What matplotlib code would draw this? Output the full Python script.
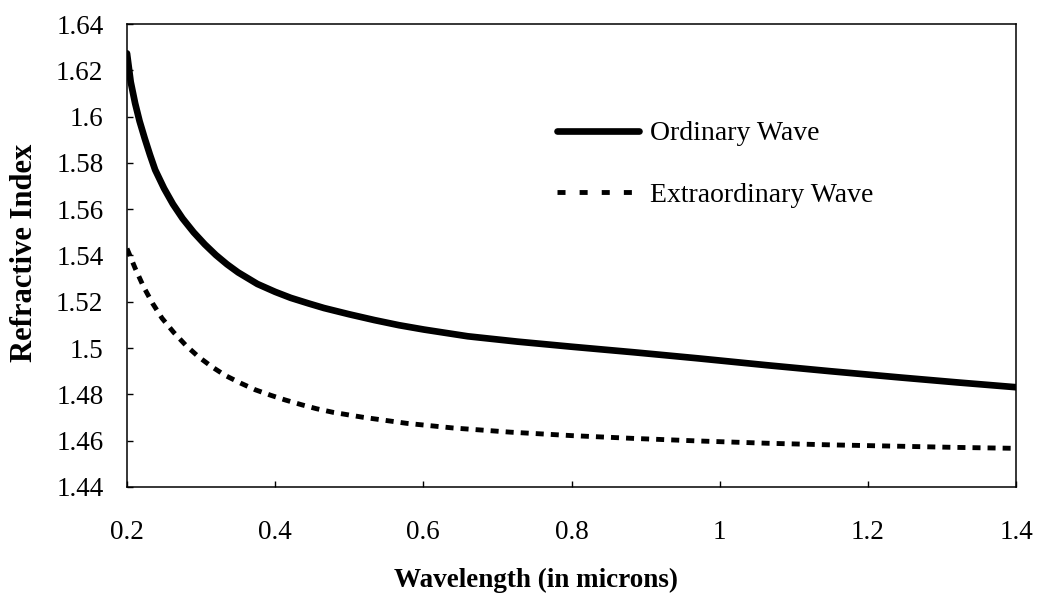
import matplotlib
matplotlib.use("Agg")
import matplotlib.pyplot as plt
from matplotlib.lines import Line2D

# Refractive index vs wavelength (microns)
wl_ordinary = [0.200, 0.205, 0.211, 0.217, 0.224, 0.231, 0.238, 0.250, 0.262, 0.275,
               0.290, 0.305, 0.320, 0.335, 0.350, 0.376, 0.400, 0.421, 0.445, 0.466,
               0.500, 0.534, 0.567, 0.601, 0.660, 0.727, 0.800, 0.884, 0.970, 1.064,
               1.150, 1.244, 1.320, 1.400]
n_ordinary = [1.6273, 1.6150, 1.6057, 1.5980, 1.5905, 1.5835, 1.5770, 1.5690, 1.5622, 1.5560,
              1.5500, 1.5448, 1.5402, 1.5362, 1.5327, 1.5277, 1.5243, 1.5217, 1.5193, 1.5173,
              1.5146, 1.5121, 1.5099, 1.5080, 1.5051, 1.5028, 1.5006, 1.4982, 1.4956, 1.4926,
              1.4900, 1.4873, 1.4852, 1.4831]

wl_extra = [0.200, 0.211, 0.2225, 0.2346, 0.2473, 0.263, 0.280, 0.2967, 0.3147,
            0.3326, 0.3538, 0.3731, 0.3942, 0.4135, 0.436, 0.456, 0.479, 0.519,
            0.5775, 0.640, 0.717, 0.800, 0.883, 0.970, 1.064, 1.150, 1.244, 1.320, 1.400]
n_extra = [1.5430, 1.5345, 1.5264, 1.5193, 1.5129, 1.5068, 1.5010, 1.4962, 1.4919,
           1.4882, 1.4848, 1.4820, 1.4796, 1.4776, 1.4755, 1.4738, 1.4722, 1.4701,
           1.4675, 1.4655, 1.4637, 1.4622, 1.4610, 1.4599, 1.4589, 1.4582, 1.4576, 1.4571, 1.4567]

x_ticks = [0.2, 0.4, 0.6, 0.8, 1.0, 1.2, 1.4]
x_ticklabels = ["0.2", "0.4", "0.6", "0.8", "1", "1.2", "1.4"]
y_ticks = [1.44, 1.46, 1.48, 1.50, 1.52, 1.54, 1.56, 1.58, 1.60, 1.62, 1.64]
y_ticklabels = ["1.44", "1.46", "1.48", "1.5", "1.52", "1.54", "1.56", "1.58", "1.6", "1.62", "1.64"]

series_labels = ["Ordinary Wave", "Extraordinary Wave"]

plt.rcParams["font.family"] = ["Liberation Serif", "DejaVu Serif"]

W, H = 1039, 597
fig = plt.figure(figsize=(W / 100, H / 100), dpi=100)
ax = fig.add_axes([127 / W, 1 - 487 / H, (1016 - 127) / W, (487 - 24) / H])

ax.plot(wl_ordinary, n_ordinary, color="black", lw=4.8, solid_capstyle="round",
        solid_joinstyle="round")
ax.plot(wl_extra, n_extra, color="black", lw=3.5, dashes=(1.65, 1.45),
        dash_capstyle="butt")

ax.set_xlim(0.2, 1.4)
ax.set_ylim(1.44, 1.64)
ax.set_xticks(x_ticks)
ax.set_xticklabels(x_ticklabels)
ax.set_yticks(y_ticks)
ax.set_yticklabels(y_ticklabels)

ax.tick_params(axis="both", direction="in", length=4, width=1, labelsize=19.5)
ax.tick_params(axis="x", pad=24)
ax.tick_params(axis="y", pad=17)
for s in ax.spines.values():
    s.set_linewidth(1.1)
    s.set_color("black")

fig.text(536 / W, 1 - 580 / H, "Wavelength (in microns)", ha="center", va="center",
         fontsize=19.5, fontweight="bold")
fig.text(25 / W, 1 - 253 / H, "Refractive Index", ha="center", va="center",
         rotation=90, fontsize=22, fontweight="bold")

handles = [
    Line2D([], [], color="black", lw=4.8, solid_capstyle="round"),
    Line2D([], [], color="black", lw=3.5, dashes=(1.65, 2.9), dash_capstyle="butt"),
]
ax.legend(handles, series_labels, loc="upper left",
          bbox_to_anchor=((557 - 127) / 889, (487 - 121) / 463),
          frameon=False, fontsize=20, handlelength=2.95, handletextpad=0.4,
          labelspacing=1.3, borderpad=0, borderaxespad=0)

fig.savefig("out.png", dpi=100, facecolor="white")
